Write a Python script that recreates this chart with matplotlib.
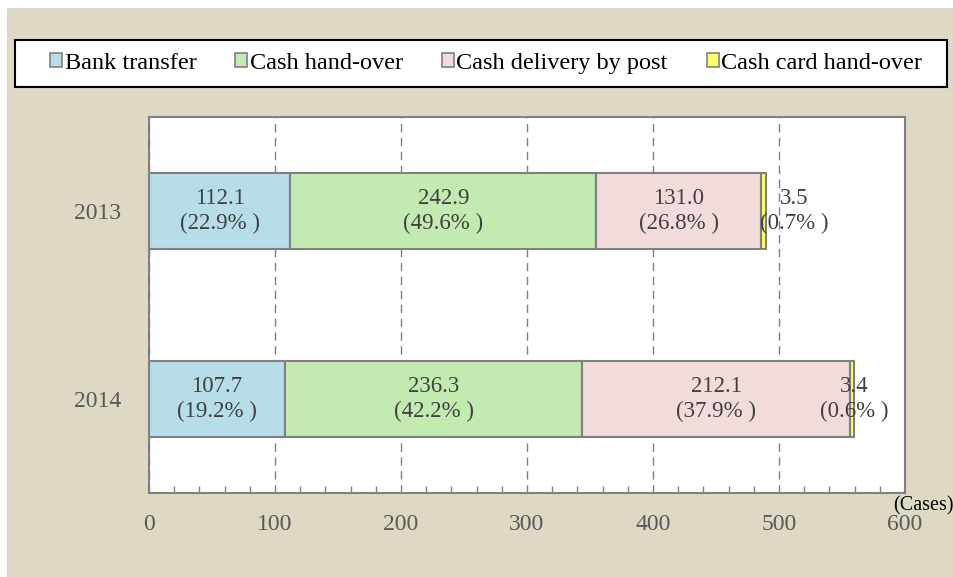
import numpy as np
import matplotlib.pyplot as plt
from matplotlib.patches import Rectangle, Patch
from matplotlib.ticker import MultipleLocator

plt.rcParams['font.family'] = ['Liberation Serif', 'DejaVu Serif']

# Data
years = ['2013', '2014']
series = ['Bank transfer', 'Cash hand-over', 'Cash delivery by post', 'Cash card hand-over']
values = {
    'Bank transfer': [112.1, 107.7],
    'Cash hand-over': [242.9, 236.3],
    'Cash delivery by post': [131.0, 212.1],
    'Cash card hand-over': [3.5, 3.4],
}
shares = {
    'Bank transfer': [22.9, 19.2],
    'Cash hand-over': [49.6, 42.2],
    'Cash delivery by post': [26.8, 37.9],
    'Cash card hand-over': [0.7, 0.6],
}
colors = ['#b7dde8', '#c3eab0', '#f2dcdb', '#ffff66']
small_label_shift = [24, 2]  # x shift (data units) for the tiny last segment labels

fig = plt.figure(figsize=(9.54, 5.77), dpi=100)
fig.patch.set_facecolor('white')
# beige panel
fig.add_artist(Rectangle((7 / 954, 0), 1 - 7 / 954, (577 - 8) / 577,
                         transform=fig.transFigure, facecolor='#ddd9c4',
                         edgecolor='none', zorder=0))
# legend box
fig.add_artist(Rectangle((15 / 954, 1 - 87 / 577), 932 / 954, 47 / 577,
                         transform=fig.transFigure, facecolor='white',
                         edgecolor='black', linewidth=1.5, zorder=1))

ax = fig.add_axes([149 / 954, 1 - 493 / 577, 756 / 954, 376 / 577])
ax.set_facecolor('white')

y = np.arange(len(years))
left = np.zeros(len(years))
for name, col in zip(series, colors):
    vals = np.array(values[name])
    ax.barh(y, vals, left=left, height=0.4, color=col, edgecolor='#808080',
            linewidth=1.5, zorder=3)
    for i in range(len(years)):
        txt = f'{vals[i]:.1f}\n({shares[name][i]:.1f}% )'
        if name == 'Cash card hand-over':
            x = left[i] + vals[i] / 2 + small_label_shift[i]
        else:
            x = left[i] + vals[i] / 2
        ax.text(x, y[i], txt, ha='center', va='center', fontsize=16.5,
                color='#404040', linespacing=1.2, zorder=4)
    left = left + vals

ax.set_xlim(0, 600)
ax.set_ylim(1.5, -0.5)
ax.set_yticks(y)
ax.set_yticklabels(years)
ax.xaxis.set_major_locator(MultipleLocator(100))
ax.xaxis.set_minor_locator(MultipleLocator(20))
ax.tick_params(axis='x', which='both', direction='in', colors='#808080',
               labelcolor='#595959', labelsize=17, pad=15)
ax.tick_params(axis='x', which='major', length=0)
ax.tick_params(axis='x', which='minor', length=5, width=1)
ax.tick_params(axis='y', length=0, labelsize=17, labelcolor='#595959', pad=20)
ax.grid(axis='x', which='major', color='#808080', linestyle=(0, (6, 4)),
        linewidth=1, zorder=1)
for s in ax.spines.values():
    s.set_color('#808080')
    s.set_linewidth(1.5)

ax.text(893 / 954, 1 - 496 / 577, '(Cases)', transform=fig.transFigure,
        ha='left', va='top', fontsize=14.5, color='black')

handles = [Patch(facecolor=c, edgecolor='#808080', linewidth=1.2) for c in colors]
fig.legend(handles, series, loc='center', bbox_to_anchor=(486 / 954, 1 - 63.5 / 577),
           ncol=4, frameon=False, fontsize=17.5, handlelength=0.5, handleheight=0.5,
           handletextpad=0.1, columnspacing=1.6)

plt.savefig('out.png')
